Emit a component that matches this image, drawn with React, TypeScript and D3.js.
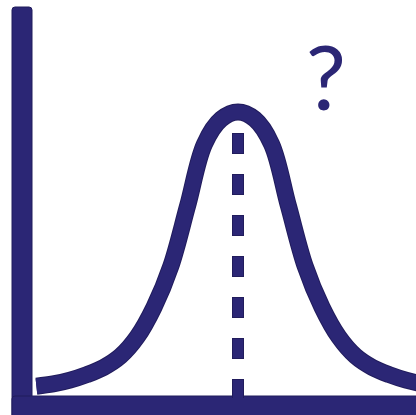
import React from 'react';
import * as d3 from 'd3';

// curve, x in sigma-like units from the centre, y as share of the peak height
const curveX = [-3.6, -3.3, -3.0, -2.7, -2.4, -2.1, -1.8, -1.5, -1.2, -0.9, -0.6, -0.3,
  0, 0.3, 0.6, 0.9, 1.2, 1.5, 1.8, 2.1, 2.4, 2.7, 3.0, 3.3, 3.6];
const curveY = [0.003, 0.011, 0.025, 0.045, 0.071, 0.112, 0.182, 0.29, 0.439, 0.659, 0.883, 0.974,
  1, 0.974, 0.883, 0.659, 0.439, 0.29, 0.182, 0.112, 0.071, 0.045, 0.025, 0.011, 0.003];
const meanX = 0;
const meanLineTop = 0.924;
const questionLabel = '?';

const W = 416;
const H = 415;
const NAVY = '#2b2675';
const NAVY_DARK = '#211c5c';

export default function App() {
  const x = d3.scaleLinear().domain([-4, 4]).range([14, 462]);
  const y = d3.scaleLinear().domain([0, 1]).range([387, 112]);

  const pts = curveX.map((v, i) => [v, curveY[i]] as [number, number]);
  const line = d3.line<[number, number]>()
    .x(d => x(d[0]))
    .y(d => y(d[1]))
    .curve(d3.curveCatmullRom.alpha(0.5));
  const d = line(pts) || '';

  const axisLeft = 12;
  const axisBottom = 396;

  return (
    <svg width={W} height={H} style={{ position: 'absolute', left: 0, top: 0, display: 'block', background: '#fff' }}>
      {/* axes */}
      <rect x={axisLeft} y={7} width={20} height={H} rx={3} fill={NAVY} stroke={NAVY_DARK} strokeWidth={1} />
      <rect x={axisLeft} y={axisBottom} width={W + 10} height={30} rx={3} fill={NAVY} stroke={NAVY_DARK} strokeWidth={1} />
      <rect x={axisLeft + 1} y={axisBottom + 1} width={19} height={18} fill={NAVY} />

      {/* mean line */}
      <line x1={x(meanX)} x2={x(meanX)} y1={y(meanLineTop)} y2={axisBottom + 2}
        stroke={NAVY_DARK} strokeWidth={12} strokeDasharray="21 20" />
      <line x1={x(meanX)} x2={x(meanX)} y1={y(meanLineTop) + 1} y2={axisBottom + 2}
        stroke={NAVY} strokeWidth={10} strokeDasharray="19 22" />

      {/* bell curve */}
      <path d={d} fill="none" stroke={NAVY_DARK} strokeWidth={17} />
      <path d={d} fill="none" stroke={NAVY} strokeWidth={15} />

      <text x={326} y={110} textAnchor="middle" fontFamily="Lato, 'Open Sans', sans-serif" fontSize={90} fill={NAVY}>
        {questionLabel}
      </text>
    </svg>
  );
}
